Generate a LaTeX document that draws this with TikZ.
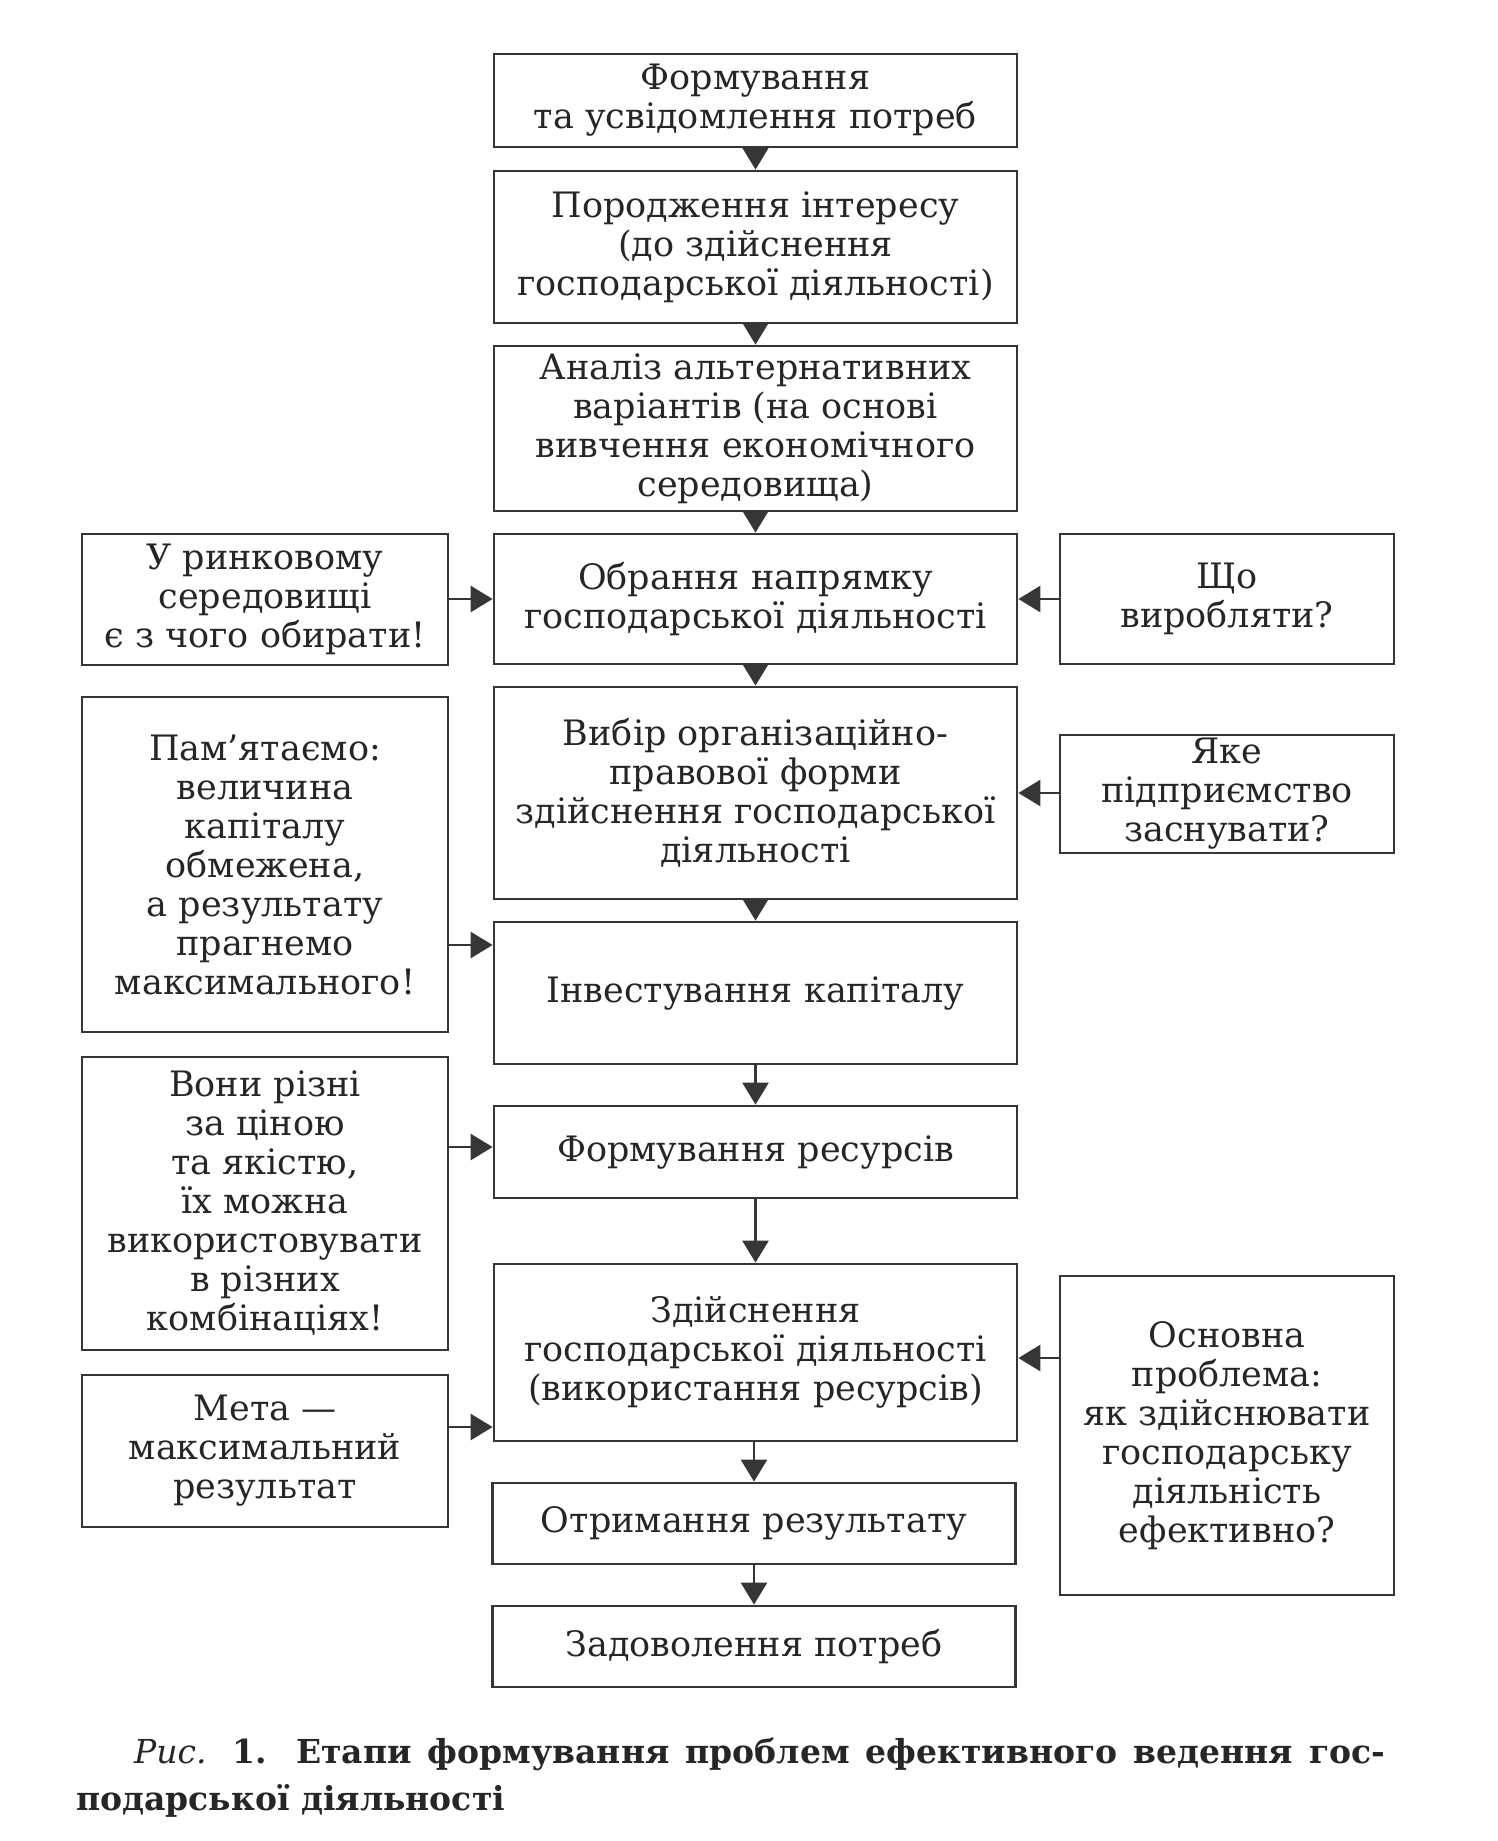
\documentclass[tikz,border=0pt]{standalone}
\usepackage{fontspec}
\setmainfont{DejaVu Serif}
\usetikzlibrary{arrows.meta}
\definecolor{linec}{HTML}{363636}
\definecolor{textc}{HTML}{262626}
\tikzset{
  box/.style={draw=linec, line width=2.8pt, align=center, inner sep=0pt, text=textc,
    font=\fontsize{35pt}{39pt}\selectfont},
  mainbox/.style={box, minimum width=523pt},
  leftbox/.style={box, minimum width=366pt},
  rightbox/.style={box, minimum width=334pt},
  arr/.style={draw=linec, line width=2.8pt, -{Triangle[length=22pt,width=26pt,fill=linec]}},
}
\begin{document}
\begin{tikzpicture}[x=1pt,y=-1pt]
\fill[white] (0,0) rectangle (1497,1841);
\useasboundingbox (0,0) rectangle (1497,1841);
% main column
\node[mainbox, minimum height=93pt]  (b1) at (755.5,100.5) {Формування\\та усвідомлення потреб};
\node[mainbox, minimum height=152pt] (b2) at (755.5,247) {Породження інтересу\\(до здійснення\\господарської діяльності)};
\node[mainbox, minimum height=165pt] (b3) at (755.5,428.5) {Аналіз альтернативних\\варіантів (на основі\\вивчення економічного\\середовища)};
\node[mainbox, minimum height=130pt] (b4) at (755.5,599) {Обрання напрямку\\господарської діяльності};
\node[mainbox, minimum height=212pt] (b5) at (755.5,793) {Вибір організаційно-\\правової форми\\здійснення господарської\\діяльності};
\node[mainbox, minimum height=142pt] (b6) at (755.5,993) {Інвестування капіталу};
\node[mainbox, minimum height=92pt]  (b7) at (755.5,1152) {Формування ресурсів};
\node[mainbox, minimum height=177pt] (b8) at (755.5,1352.5) {Здійснення\\господарської діяльності\\(використання ресурсів)};
\node[mainbox, minimum height=81pt]  (b9) at (754,1523.5) {Отримання результату};
\node[mainbox, minimum height=81pt]  (b10) at (754,1646.5) {Задоволення потреб};
% left column
\node[leftbox, minimum height=131pt] (L1) at (265,599.5) {У ринковому\\середовищі\\є з чого обирати!};
\node[leftbox, minimum height=335pt] (L2) at (265,864.5) {Пам’ятаємо:\\величина\\капіталу\\обмежена,\\а результату\\прагнемо\\максимального!};
\node[leftbox, minimum height=293pt] (L3) at (265,1203.5) {Вони різні\\за ціною\\та якістю,\\їх можна\\використовувати\\в різних\\комбінаціях!};
\node[leftbox, minimum height=152pt] (L4) at (265,1451) {Мета —\\максимальний\\результат};
% right column
\node[rightbox, minimum height=130pt] (R1) at (1227,599) {Що\\виробляти?};
\node[rightbox, minimum height=118pt] (R2) at (1227,794) {Яке\\підприємство\\заснувати?};
\node[rightbox, minimum height=319pt] (R3) at (1227,1435.5) {Основна\\проблема:\\як здійснювати\\господарську\\діяльність\\ефективно?};
% vertical arrows
\draw[arr] (b1.south) -- (b2.north);
\draw[arr] (b2.south) -- (b3.north);
\draw[arr] (b3.south) -- (b4.north);
\draw[arr] (b4.south) -- (b5.north);
\draw[arr] (b5.south) -- (b6.north);
\draw[arr] (b6.south) -- (b7.north);
\draw[arr] (b7.south) -- (b8.north);
\draw[arr] (b8.south -| b9.north) -- (b9.north);
\draw[arr] (b9.south) -- (b10.north);
% side arrows
\draw[arr] (L1.east |- b4.west) -- (b4.west);
\draw[arr] (L2.east |- 0,945) -- (b6.west |- 0,945);
\draw[arr] (L3.east |- 0,1147) -- (b7.west |- 0,1147);
\draw[arr] (L4.east |- 0,1427) -- (b8.west |- 0,1427);
\draw[arr] (R1.west |- b4.east) -- (b4.east);
\draw[arr] (R2.west |- b5.east) -- (b5.east);
\draw[arr] (R3.west |- 0,1358) -- (b8.east |- 0,1358);
% caption
\node[anchor=base west, inner sep=0pt, text=textc, font=\fontsize{33pt}{46pt}\selectfont] (cap1) at (134,1763)
  {\makebox[1251pt][s]{\textit{Рис.} \textbf{1. Етапи формування проблем ефективного ведення гос-}}};
\node[anchor=base west, inner sep=0pt, text=textc, font=\fontsize{33pt}{46pt}\selectfont\bfseries] (cap2) at (76,1810)
  {подарської діяльності};
\end{tikzpicture}
\end{document}
